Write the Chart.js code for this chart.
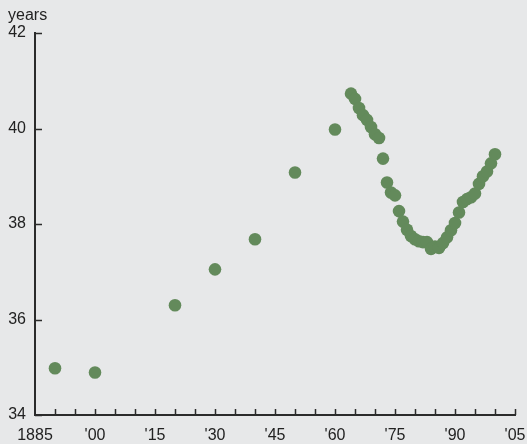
<!DOCTYPE html>
<html>
<head>
<meta charset="utf-8">
<script src="https://cdn.jsdelivr.net/npm/chart.js@4"></script>
<style>
  html, body { margin: 0; padding: 0; background: #e7e8e9; }
  #wrap { width: 527px; height: 444px; position: relative; }
</style>
</head>
<body>
<div id="wrap"><canvas id="ageChart"></canvas></div>
<script>
// early census years, then yearly values
const years = [1890, 1900, 1920, 1930, 1940, 1950, 1960,
  1964, 1965, 1966, 1967, 1968, 1969, 1970, 1971, 1972, 1973, 1974, 1975,
  1976, 1977, 1978, 1979, 1980, 1981, 1982, 1983, 1984, 1985, 1986, 1987,
  1988, 1989, 1990, 1991, 1992, 1993, 1994, 1995, 1996, 1997, 1998, 1999, 2000];
const ages = [34.98, 34.89, 36.3, 37.05, 37.68, 39.08, 39.98,
  40.73, 40.62, 40.43, 40.28, 40.18, 40.03, 39.88, 39.8, 39.37, 38.87, 38.66, 38.6,
  38.27, 38.05, 37.88, 37.75, 37.68, 37.64, 37.62, 37.62, 37.48, 37.53, 37.5, 37.6,
  37.72, 37.87, 38.02, 38.24, 38.46, 38.52, 38.56, 38.64, 38.84, 39.0, 39.1, 39.27, 39.46];
const xTickLabels = ['1885', "'00", "'15", "'30", "'45", "'60", "'75", "'90", "'05"];
const yTicks = [34, 36, 38, 40, 42];

const axisColor = '#2b2b2b';
const font = { family: 'Liberation Sans, Arial, sans-serif', size: 16 };

// background, "years" label and inward tick marks
const decor = {
  id: 'decor',
  beforeDraw(chart) {
    const ctx = chart.ctx;
    ctx.save();
    ctx.fillStyle = '#e7e8e9';
    ctx.fillRect(0, 0, chart.width, chart.height);
    ctx.restore();
  },
  afterDraw(chart) {
    const ctx = chart.ctx;
    const x = chart.scales.x, y = chart.scales.y;
    ctx.save();
    ctx.strokeStyle = axisColor;
    ctx.lineWidth = 1.5;
    ctx.beginPath();
    for (let v = 1890; v <= 2005; v += 5) {
      const px = Math.round(x.getPixelForValue(v)) + 0.5;
      ctx.moveTo(px, y.bottom);
      ctx.lineTo(px, y.bottom - 6);
    }
    yTicks.forEach(v => {
      const py = Math.round(y.getPixelForValue(v)) + 0.5;
      ctx.moveTo(x.left, py);
      ctx.lineTo(x.left + 7, py);
    });
    ctx.stroke();
    ctx.fillStyle = '#222';
    ctx.font = '16px ' + font.family;
    ctx.textBaseline = 'middle';
    ctx.fillText('years', 8, 16);
    ctx.restore();
  }
};

new Chart(document.getElementById('ageChart'), {
  type: 'scatter',
  data: {
    datasets: [{
      data: years.map((yr, i) => ({ x: yr, y: ages[i] })),
      backgroundColor: '#638a5b',
      borderWidth: 0,
      pointRadius: 6.3,
      pointHoverRadius: 6.3
    }]
  },
  options: {
    responsive: true,
    maintainAspectRatio: false,
    animation: false,
    events: [],
    layout: { padding: { top: 33, right: 12, left: 0, bottom: 0 } },
    plugins: { legend: { display: false }, tooltip: { enabled: false } },
    scales: {
      x: {
        type: 'linear',
        min: 1885,
        max: 2005,
        afterFit: s => { s.height = 29; s.paddingLeft = 0; s.paddingRight = 0; },
        afterBuildTicks: s => {
          s.ticks = xTickLabels.map((t, i) => ({ value: 1885 + i * 15 }));
        },
        grid: { display: false, drawTicks: false },
        border: { display: true, color: axisColor, width: 2 },
        ticks: {
          color: '#222',
          font: font,
          padding: 11,
          maxRotation: 0,
          autoSkip: false,
          callback: (v) => xTickLabels[(v - 1885) / 15]
        }
      },
      y: {
        min: 34,
        max: 42,
        afterFit: s => { s.width = 35; s.paddingTop = 0; s.paddingBottom = 0; },
        afterBuildTicks: s => { s.ticks = yTicks.map(v => ({ value: v })); },
        grid: { display: false, drawTicks: false },
        border: { display: true, color: axisColor, width: 2 },
        ticks: { color: '#222', font: font, padding: 9 }
      }
    }
  },
  plugins: [decor]
});
</script>
</body>
</html>
